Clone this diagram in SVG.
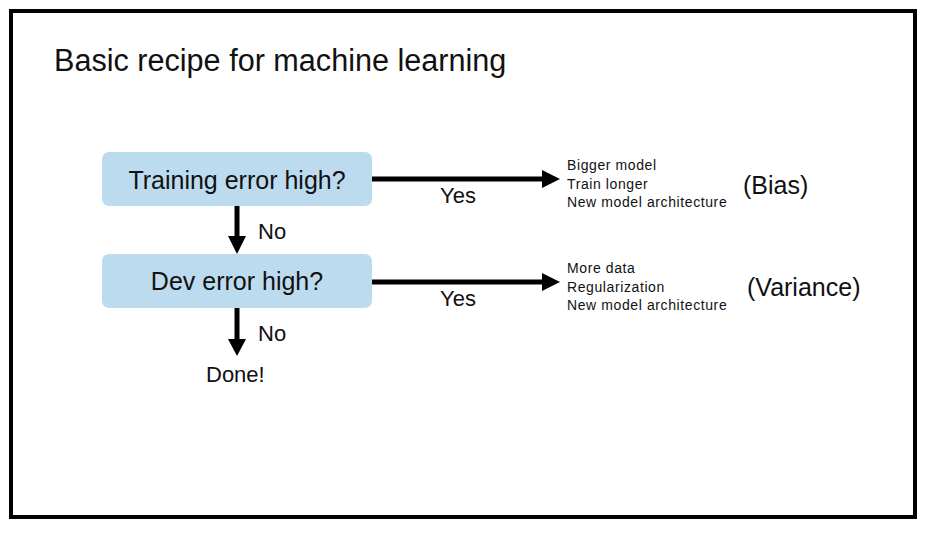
<svg xmlns="http://www.w3.org/2000/svg" width="929" height="540" viewBox="0 0 929 540">
<style>
text{font-family:"Liberation Sans",Arial,sans-serif;fill:#111}
.box{fill:#BDDBEF}
.q{font-size:25px;text-anchor:middle}
.lbl{font-size:22px}
.sm{font-size:14px;letter-spacing:0.6px}
.big{font-size:25px}
.ln{stroke:#000;stroke-width:5;fill:none}
</style>
<rect x="0" y="0" width="929" height="540" fill="#fff"/>
<rect x="11" y="11" width="904" height="506" fill="#fff" stroke="#000" stroke-width="4"/>
<text x="54" y="71" font-size="30.6">Basic recipe for machine learning</text>
<g id="training">
<rect class="box" x="102" y="152" width="270" height="54" rx="7"/>
<text class="q" x="237" y="189">Training error high?</text>
</g>
<g id="dev">
<rect class="box" x="102" y="254" width="270" height="54" rx="7"/>
<text class="q" x="237" y="290">Dev error high?</text>
</g>
<g id="done">
<text class="lbl" x="206" y="382">Done!</text>
</g>
<g id="bias">
<text class="sm" x="567" y="170">Bigger model</text>
<text class="sm" x="567" y="189">Train longer</text>
<text class="sm" x="567" y="207">New model architecture</text>
<text class="big" x="743" y="194">(Bias)</text>
</g>
<g id="variance">
<text class="sm" x="567" y="273">More data</text>
<text class="sm" x="567" y="292">Regularization</text>
<text class="sm" x="567" y="310">New model architecture</text>
<text class="big" x="747" y="296">(Variance)</text>
</g>
<g id="connectors">
<line class="ln" x1="372" y1="179" x2="545" y2="179"/>
<polygon points="542,170 560,179 542,188" fill="#000"/>
<text class="lbl" x="440" y="203">Yes</text>
<line class="ln" x1="372" y1="282" x2="545" y2="282"/>
<polygon points="542,273 560,282 542,291" fill="#000"/>
<text class="lbl" x="440" y="306">Yes</text>
<line class="ln" x1="237" y1="206" x2="237" y2="238"/>
<polygon points="228,236 246,236 237,254" fill="#000"/>
<text class="lbl" x="258" y="239">No</text>
<line class="ln" x1="237" y1="308" x2="237" y2="341"/>
<polygon points="228,339 246,339 237,356" fill="#000"/>
<text class="lbl" x="258" y="341">No</text>
</g>
</svg>
